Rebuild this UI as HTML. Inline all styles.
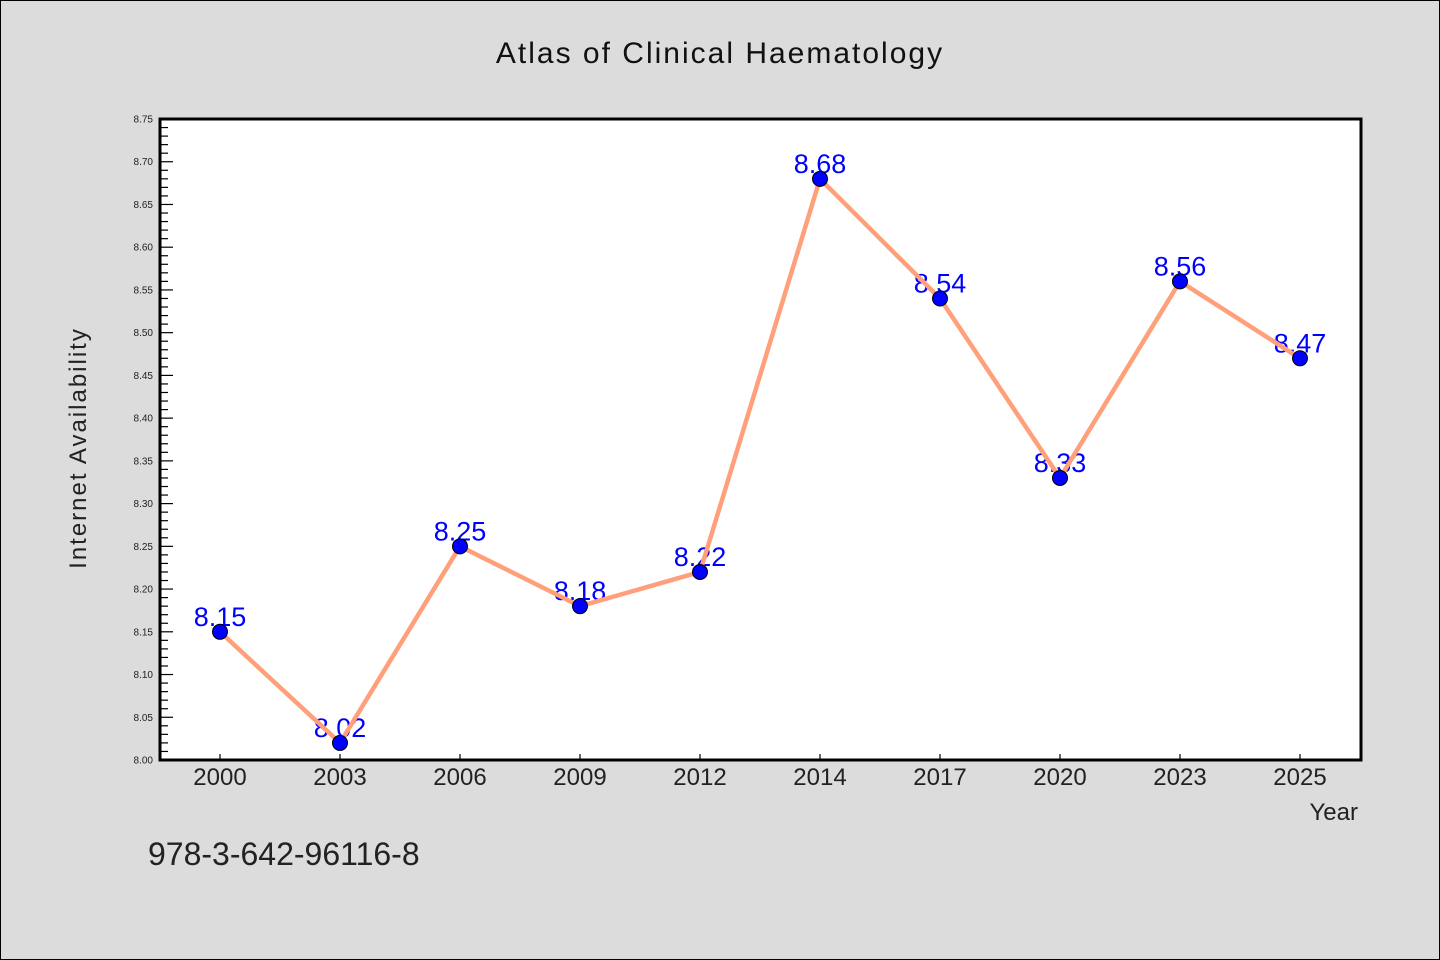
<!DOCTYPE html>
<html><head><meta charset="utf-8"><style>
html,body{margin:0;padding:0;background:#dcdcdc;}
svg{display:block;font-family:"WenQuanYi Zen Hei","Liberation Sans",sans-serif;}
</style></head><body>
<svg id="c" width="1440" height="960" viewBox="0 0 1440 960">
<rect x="0.5" y="0.5" width="1439" height="959" fill="#dcdcdc" stroke="#000"/>
<text x="720" y="63" text-anchor="middle" font-size="30" fill="#111" letter-spacing="2">Atlas of Clinical Haematology</text>
<rect x="160" y="119" width="1201" height="641" fill="#fff"/>
<g id="grid"></g>
<g id="series"></g>
<rect x="160" y="119" width="1201" height="641" fill="none" stroke="#000" stroke-width="3"/>
<text x="86" y="448" text-anchor="middle" font-size="24" fill="#222" letter-spacing="2" transform="rotate(-90 86 448)">Internet Availability</text>
<text x="1358" y="820" text-anchor="end" font-size="24" fill="#222">Year</text>
<text x="148" y="865" font-size="32" fill="#222">978-3-642-96116-8</text>
</svg>
<script>
const categories=["2000","2003","2006","2009","2012","2014","2017","2020","2023","2025"];
const values=[8.15,8.02,8.25,8.18,8.22,8.68,8.54,8.33,8.56,8.47];
const yTicks=[8.00,8.05,8.10,8.15,8.20,8.25,8.30,8.35,8.40,8.45,8.50,8.55,8.60,8.65,8.70,8.75];
const NS="http://www.w3.org/2000/svg";
const L=160,R=1361,T=119,B=760,yMin=8.0,yMax=8.75;
const xS=i=>220+i*120;
const yS=v=>B-(v-yMin)/(yMax-yMin)*(B-T);
function mk(tag,attrs,parent){const e=document.createElementNS(NS,tag);for(const k in attrs)e.setAttribute(k,attrs[k]);parent.appendChild(e);return e;}
const g=document.getElementById('grid'),s=document.getElementById('series');
for(let k=0;k<=75;k++){const v=yMin+k*0.01;const y=yS(v);const major=k%5===0;
 const t=mk('line',{x1:L,x2:L+(major?13:8),y1:y,y2:y,stroke:'#000','stroke-width':1.2},g);
 
 }
yTicks.forEach(v=>{const t=mk('text',{x:153,y:yS(v)+3.5,'text-anchor':'end','font-size':10,fill:'#222'},g);t.textContent=v.toFixed(2);
 
 });
categories.forEach((c,i)=>{const x=xS(i);
 const t=mk('line',{x1:x,x2:x,y1:B,y2:B-6,stroke:'#000','stroke-width':1.2},g);
 
 
 const l=mk('text',{x:x,y:785,'text-anchor':'middle','font-size':24,fill:'#222'},g);l.textContent=c;
 
 });
values.forEach((v,i)=>{const t=mk('text',{x:xS(i),y:yS(v)-6,'text-anchor':'middle','font-size':27,fill:'#0000ff'},s);t.textContent=v.toFixed(2);
 
 });
const line=mk('polyline',{points:values.map((v,i)=>xS(i)+','+yS(v)).join(' '),fill:'none',stroke:'#ffa07a','stroke-width':4.5,'stroke-linejoin':'round'},s);


values.forEach((v,i)=>{const c=mk('circle',{cx:xS(i),cy:yS(v),r:7.5,fill:'#0000ff',stroke:'#000','stroke-width':1},s);
 
 });
</script>
</body></html>
